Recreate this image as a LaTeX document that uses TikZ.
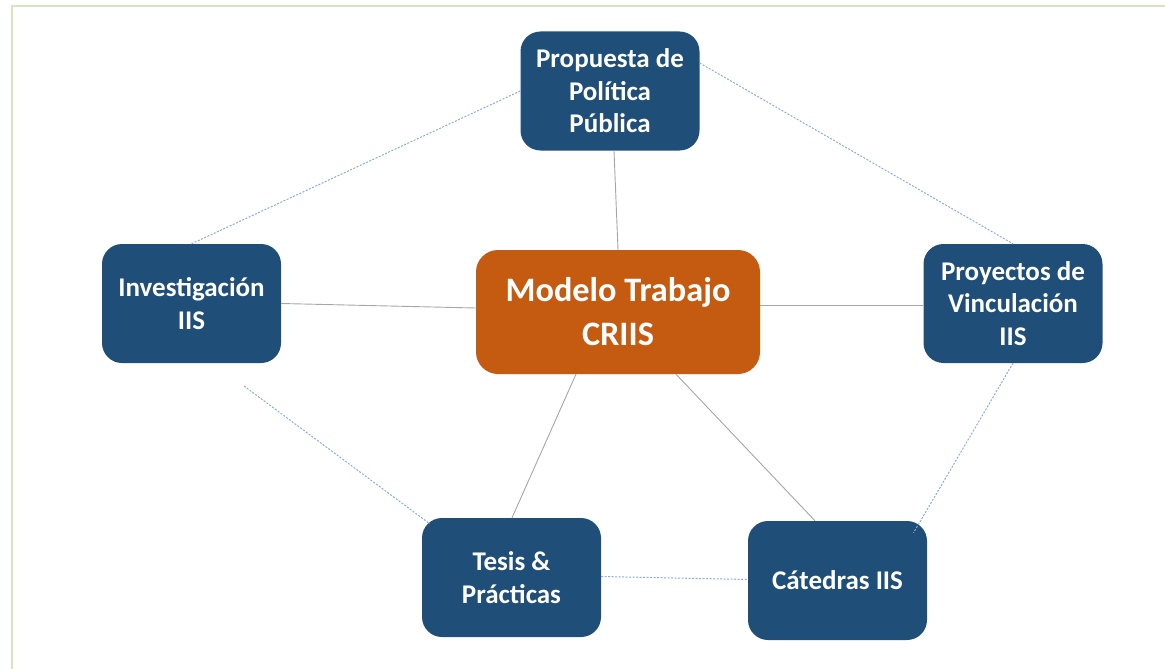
\documentclass[tikz,border=0pt]{standalone}
\usepackage{fontspec}
\setmainfont{Carlito}
\usetikzlibrary{calc}
\definecolor{boxblue}{HTML}{1F4E79}
\definecolor{boxorange}{HTML}{C55A11}
\definecolor{framegreen}{HTML}{D7E4BD}
\definecolor{linegray}{HTML}{A6A6A6}
\definecolor{dotblue}{HTML}{8EA9DB}
\tikzset{
  bluebox/.style={draw=none, fill=boxblue, rounded corners=20pt, minimum width=179pt, minimum height=119pt,
    text=white, align=center, inner sep=0pt, font=\fontsize{27}{32.5}\selectfont\bfseries},
  orangebox/.style={draw=none, fill=boxorange, rounded corners=22pt, minimum width=284pt, minimum height=124pt,
    text=white, align=center, inner sep=0pt, font=\fontsize{34.3}{44}\selectfont\bfseries},
  solidlink/.style={draw=linegray, line width=0.9pt},
  dotlink/.style={draw=dotblue, line width=1pt, dash pattern=on 2pt off 1.5pt}
}
\begin{document}
\begin{tikzpicture}[x=1pt, y=-1pt]
\useasboundingbox (0,0) rectangle (1165,669);
\draw[framegreen, line width=2pt] (12,669) -- (12,6) -- (1165,6);
\node[bluebox] (prop) at (610,91) {Propuesta de\\Política\\Pública};
\node[orangebox] (mod) at (618,312) {Modelo Trabajo\\CRIIS};
\node[bluebox] (inv) at (191.5,303.5) {Investigación\\IIS};
\node[bluebox] (proj) at (1013,303.5) {Proyectos de\\Vinculación\\IIS};
\node[bluebox] (tes) at (511.5,577.5) {Tesis \&\\Prácticas};
\node[bluebox] (cat) at (837.5,580.5) {Cátedras IIS};
\coordinate (invfree) at (244,386);
% solid links
\draw[solidlink] ([xshift=4pt]prop.south) -- (mod.north);
\draw[solidlink] (inv.east) -- ([yshift=4pt]mod.west);
\draw[solidlink] ([yshift=7pt]mod.east) -- ([yshift=-1.5pt]proj.west);
\draw[solidlink] ([xshift=-42pt]mod.south) -- ([xshift=0.5pt]tes.north);
\draw[solidlink] ([xshift=58pt]mod.south) -- ([xshift=-22.5pt]cat.north);
% dotted links
\draw[dotlink] (inv.north) -- (prop.west);
\draw[dotlink] ([yshift=28pt]prop.east) -- (proj.north);
\draw[dotlink] (proj.south) -- ([shift={(76pt,-12pt)}]cat.north);
\draw[dotlink] (invfree) -- ([shift={(8pt,-6pt)}]tes.north west);
\draw[dotlink] ([yshift=1pt]tes.east) -- ([yshift=1pt]cat.west);
\end{tikzpicture}
\end{document}
